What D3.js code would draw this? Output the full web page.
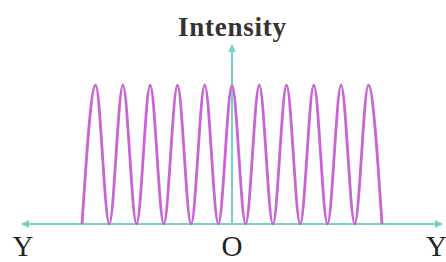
<!DOCTYPE html>
<html>
<head>
<meta charset="utf-8">
<script src="https://cdn.jsdelivr.net/npm/d3@7"></script>
<style>
  body { margin: 0; background: #fff; }
  svg { display: block; }
</style>
</head>
<body>
<svg width="446" height="262"></svg>
<script>
// fringe positions (in fringe widths from O) and relative intensity
var fringePos = [-5.5, -5, -4.5, -4, -3.5, -3, -2.5, -2, -1.5, -1, -0.5, 0,
                 0.5, 1, 1.5, 2, 2.5, 3, 3.5, 4, 4.5, 5, 5.5];
var fringeInt = [0, 1, 0, 1, 0, 1, 0, 1, 0, 1, 0, 1,
                 0, 1, 0, 1, 0, 1, 0, 1, 0, 1, 0];

var axisLabels = ["Y", "O", "Y\u2032"];
var yTitle = "Intensity";

var axisColor = "#74d3c6";
var curveColor = "#c965d2";

var svg = d3.select("svg");

var x = d3.scaleLinear().domain([-7.7, 7.7]).range([22, 442]);
var y = d3.scaleLinear().domain([0, 1.29]).range([224, 45]);

var defs = svg.append("defs");
defs.append("marker")
    .attr("id", "arr")
    .attr("viewBox", "0 0 10 10")
    .attr("refX", 9)
    .attr("refY", 5)
    .attr("markerWidth", 4)
    .attr("markerHeight", 4)
    .attr("orient", "auto-start-reverse")
    .append("path")
    .attr("d", "M0,0 L10,5 L0,10 z")
    .attr("fill", axisColor);

// horizontal axis, arrows both ends
svg.append("line")
    .attr("x1", x(-7.7)).attr("x2", x(7.7))
    .attr("y1", y(0)).attr("y2", y(0))
    .attr("stroke", axisColor)
    .attr("stroke-width", 2)
    .attr("marker-start", "url(#arr)")
    .attr("marker-end", "url(#arr)");

// vertical axis
svg.append("line")
    .attr("x1", x(0)).attr("x2", x(0))
    .attr("y1", y(0)).attr("y2", y(1.29))
    .attr("stroke", axisColor)
    .attr("stroke-width", 2)
    .attr("marker-end", "url(#arr)");

var pts = fringePos.map(function(p, i) { return [p, fringeInt[i]]; });

// monotone keeps every fringe the same height
var line = d3.line()
    .x(function(d) { return x(d[0]); })
    .y(function(d) { return y(d[1]); })
    .curve(d3.curveMonotoneX);

svg.append("path")
    .datum(pts)
    .attr("d", line)
    .attr("fill", "none")
    .attr("stroke", curveColor)
    .attr("stroke-width", 2.8);

var font = "'Liberation Serif', 'DejaVu Serif', serif";

svg.append("text")
    .attr("x", x(0))
    .attr("y", 36)
    .attr("text-anchor", "middle")
    .style("font-family", font)
    .style("font-weight", "bold")
    .style("font-size", "27px")
    .attr("fill", "#333")
    .attr("textLength", 108)
    .text(yTitle);

var labelData = [
    {t: axisLabels[0], x: 23, a: "middle"},
    {t: axisLabels[1], x: x(0), a: "middle"},
    {t: axisLabels[2], x: 426, a: "start"}
];

svg.selectAll(".lab")
    .data(labelData)
    .enter().append("text")
    .attr("class", "lab")
    .attr("x", function(d) { return d.x; })
    .attr("y", 256)
    .attr("text-anchor", function(d) { return d.a; })
    .style("font-family", font)
    .style("font-size", "29px")
    .attr("fill", "#222")
    .text(function(d) { return d.t; });
</script>
</body>
</html>
